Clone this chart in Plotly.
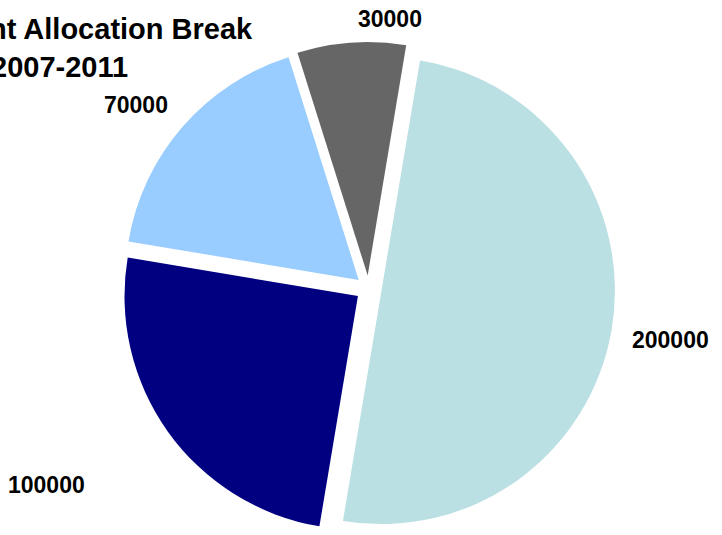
import plotly.graph_objects as go

# ---- data ----
categories = ["A", "B", "C", "D"]
values = [200000, 100000, 70000, 30000]
colors = ["#BBE0E3", "#000080", "#99CCFF", "#666666"]
title_lines = ["nt Allocation Break", "2007-2011"]

# ---- layout constants ----
W, H = 722, 535
M_T, M_B, M_L, M_R = 42, 0, 0, 0
PH = H - M_T - M_B

def px(x):
    return x / (W - M_L - M_R)

def py(y):
    return (H - M_B - y) / PH

label_pos = [(670, 340), (46, 485), (136, 105), (390, 19)]  # pixel centres
title_pos = [(255, 29), (130, 67)]  # right end, centre y

fig = go.Figure(
    go.Pie(
        labels=categories,
        values=values,
        sort=False,
        direction="clockwise",
        rotation=9.5,
        pull=[0.056] * len(values),
        marker=dict(colors=colors, line=dict(width=0)),
        textinfo="none",
        hoverinfo="label+value",
        domain=dict(x=[0.021, 1.0], y=[0, 1]),
        showlegend=False,
    )
)

annotations = []
for v, (x, y) in zip(values, label_pos):
    annotations.append(dict(
        text=f"<b>{v}</b>", x=px(x), y=py(y), xref="paper", yref="paper",
        xanchor="center", yanchor="middle", showarrow=False,
        font=dict(family="Liberation Sans, Arial, sans-serif", size=23, color="#000000"),
    ))
for t, (x, y) in zip(title_lines, title_pos):
    annotations.append(dict(
        text=f"<b>{t}</b>", x=px(x), y=py(y), xref="paper", yref="paper",
        xanchor="right", yanchor="middle", showarrow=False,
        font=dict(family="Liberation Sans, Arial, sans-serif", size=29, color="#000000"),
    ))

fig.update_layout(
    width=W, height=H,
    margin=dict(t=M_T, b=M_B, l=M_L, r=M_R),
    paper_bgcolor="white", plot_bgcolor="white",
    annotations=annotations,
)

fig.write_html("out.html")
